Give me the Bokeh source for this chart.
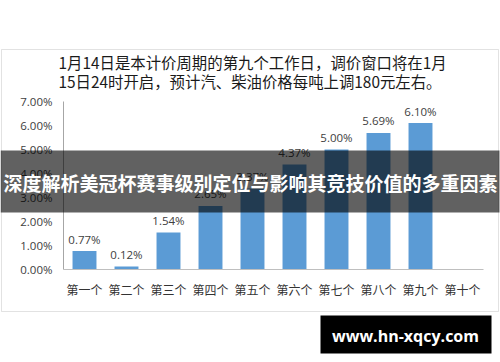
from bokeh.plotting import figure
from bokeh.models import BoxAnnotation, Label, ColumnDataSource, Range1d
from bokeh.core.properties import value
from bokeh.embed import file_html
from bokeh.resources import INLINE
import math

categories = ["第一个", "第二个", "第三个", "第四个", "第五个", "第六个", "第七个", "第八个", "第九个", "第十个"]
values = [0.77, 0.12, 1.54, 2.65, 3.37, 4.37, 5.00, 5.69, 6.10, float("nan")]
value_labels = ["0.77%", "0.12%", "1.54%", "2.65%", "3.37%", "4.37%", "5.00%", "5.69%", "6.10%", ""]
y_ticks = [0, 1, 2, 3, 4, 5, 6, 7]
y_tick_labels = ["0.00%", "1.00%", "2.00%", "3.00%", "4.00%", "5.00%", "6.00%", "7.00%"]
title_lines = ["1月14日是本计价周期的第九个工作日，调价窗口将在1月",
               "15日24时开启，预计汽、柴油价格每吨上调180元左右。"]
banner_text = "深度解析美冠杯赛事级别定位与影响其竞技价值的多重因素"
site_text = "www.hn-xqcy.com"

W, H = 500, 362
# plot area in canvas pixels: x 63..483 for the categories, y 269 (0%) .. 101 (7%)
PX0, PX1, PY0, PY1 = 63, 483, 269, 101
ppx = (PX1 - PX0) / len(categories)          # pixels per category
ppy = (PY0 - PY1) / (y_ticks[-1] - y_ticks[0])  # pixels per percent


def dx(px):
    return (px - PX0) / ppx


def dy(py):
    return (PY0 - py) / ppy + y_ticks[0]


p = figure(width=W, height=H, output_backend="svg", toolbar_location=None,
           x_range=Range1d(dx(0), dx(W)), y_range=Range1d(dy(H), dy(0)),
           x_axis_type=None, y_axis_type=None, min_border=0)
p.outline_line_color = None
p.xgrid.visible = False
p.ygrid.visible = False
p.background_fill_color = "white"
p.border_fill_color = "white"

xs = [i + 0.5 for i in range(len(categories))]
src = ColumnDataSource(dict(x=xs, cat=categories, val=values, lab=value_labels,
                            ly=[0 if math.isnan(v) else v for v in values],
                            base=[y_ticks[0]] * len(categories)))

# chart box border
p.add_layout(BoxAnnotation(left=dx(1), right=dx(498), top=dy(49), bottom=dy(311),
                           fill_alpha=0, line_color="#a0a0a0", line_width=1, level="underlay"))

# bars and their labels
p.vbar(x="x", top="val", width=0.57, source=src, color="#5B9BD5", line_color=None)
p.text(x="x", y="ly", text="lab", source=src, y_offset=-12,
       text_align="center", text_baseline="middle",
       text_font=value("Open Sans"), text_font_size="11.5px", text_color="#404040")

# axes
p.segment(x0=[0], y0=[y_ticks[0]], x1=[0], y1=[y_ticks[-1]], line_color="#a6a6a6", line_width=1)
p.segment(x0=[0], y0=[y_ticks[0]], x1=[len(categories)], y1=[y_ticks[0]], line_color="#bfbfbf", line_width=1)
p.text(x=[0] * len(y_ticks), y=y_ticks, text=y_tick_labels, x_offset=-11,
       text_align="right", text_baseline="middle",
       text_font=value("Open Sans"), text_font_size="11.5px", text_color="#404040")
p.text(x="x", y="base", text="cat", source=src, y_offset=20,
       text_align="center", text_baseline="middle",
       text_font=value("Noto Sans CJK SC"), text_font_size="12px", text_color="#333333")

# title
for t, yy in zip(title_lines, [61, 80]):
    p.add_layout(Label(x=dx(58), y=dy(yy), text=t,
                       text_font="Noto Sans CJK SC", text_font_size="15.4px",
                       text_color="#1a1a1a", text_baseline="middle", text_align="left"))

# banner
p.add_layout(BoxAnnotation(left=dx(0), right=dx(499), top=dy(150), bottom=dy(212),
                           fill_color="black", fill_alpha=0.62, line_color=None))
p.add_layout(Label(x=dx(250), y=dy(182), text=banner_text,
                   text_font="Noto Sans CJK SC", text_font_size="19px", text_font_style="bold",
                   text_color="white", text_baseline="middle", text_align="center"))

# site box
p.add_layout(BoxAnnotation(left=dx(320), right=dx(491), top=dy(315), bottom=dy(353),
                           fill_color="black", fill_alpha=1, line_color=None))
p.add_layout(Label(x=dx(405), y=dy(335), text=site_text,
                   text_font="Open Sans", text_font_size="16px", text_font_style="bold",
                   text_color="white", text_baseline="middle", text_align="center"))

open("out.html", "w").write(file_html(p, INLINE))
